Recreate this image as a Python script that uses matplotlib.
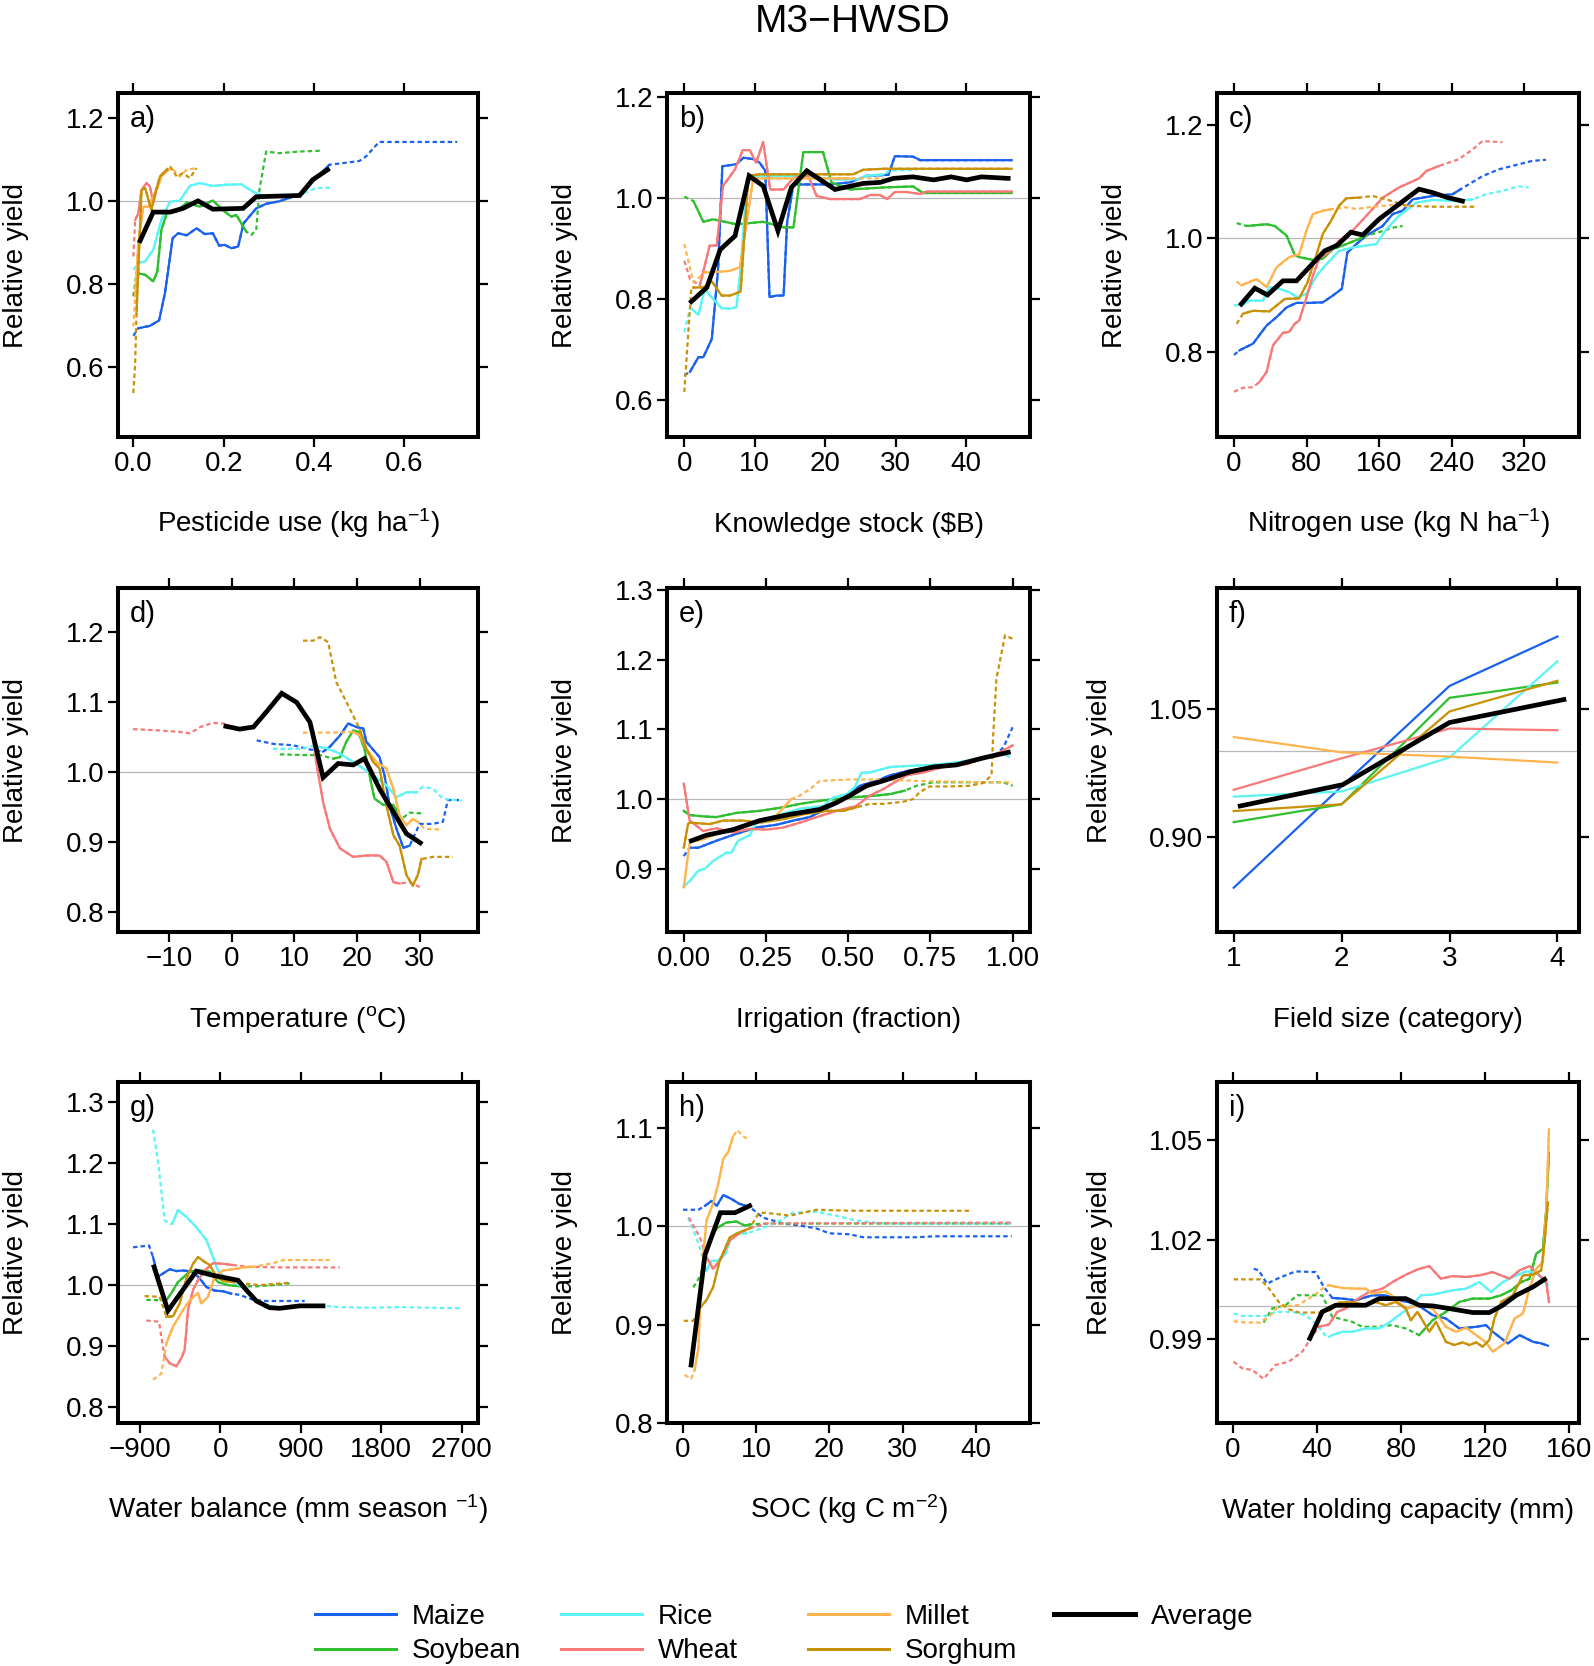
import matplotlib
matplotlib.use('Agg')
import matplotlib.pyplot as plt
from matplotlib.lines import Line2D

plt.rcParams['font.family'] = ['Liberation Sans', 'DejaVu Sans']
plt.rcParams['mathtext.fontset'] = 'custom'
plt.rcParams['mathtext.rm'] = 'Liberation Sans'
plt.rcParams['mathtext.it'] = 'Liberation Sans:italic'
plt.rcParams['mathtext.bf'] = 'Liberation Sans:bold'

CROPS = ['Maize', 'Soybean', 'Rice', 'Wheat', 'Millet', 'Sorghum']
COLORS = {'Maize': '#1a62ee', 'Soybean': '#2fbf2f', 'Rice': '#5cf4f4',
          'Wheat': '#f87a78', 'Millet': '#ffb44e', 'Sorghum': '#c99206'}

# ---------------- panel a: pesticide use ----------------
a_maize_x = [0, 0.011, 0.037, 0.057, 0.070, 0.087, 0.099, 0.118, 0.140, 0.158, 0.176, 0.190, 0.202, 0.217, 0.232, 0.244, 0.272, 0.294, 0.323, 0.353, 0.375, 0.404, 0.434, 0.500, 0.515, 0.544, 0.717]
a_maize_y = [0.675, 0.693, 0.699, 0.712, 0.778, 0.910, 0.922, 0.917, 0.934, 0.920, 0.922, 0.892, 0.894, 0.886, 0.890, 0.946, 0.982, 0.993, 0.999, 1.010, 1.018, 1.055, 1.087, 1.096, 1.107, 1.142, 1.142]
a_maize_solid = (0.011, 0.434)
a_soy_x = [0, 0.007, 0.026, 0.044, 0.053, 0.062, 0.074, 0.096, 0.118, 0.147, 0.176, 0.202, 0.217, 0.228, 0.250, 0.261, 0.272, 0.279, 0.294, 0.323, 0.368, 0.419]
a_soy_y = [0.770, 0.826, 0.822, 0.806, 0.830, 0.930, 0.970, 0.974, 0.996, 0.986, 1.001, 0.974, 0.962, 0.966, 0.926, 0.918, 0.930, 1.026, 1.119, 1.115, 1.119, 1.121]
a_soy_solid = (0.007, 0.250)
a_rice_x = [0, 0.011, 0.026, 0.044, 0.062, 0.081, 0.103, 0.125, 0.147, 0.176, 0.206, 0.239, 0.265, 0.283, 0.323, 0.353, 0.375, 0.404, 0.437]
a_rice_y = [0.834, 0.851, 0.854, 0.882, 0.954, 0.998, 1.001, 1.036, 1.043, 1.036, 1.039, 1.040, 1.022, 1.014, 1.010, 1.012, 1.017, 1.031, 1.032]
a_rice_solid = (0.011, 0.375)
a_wheat_x = [0, 0.004, 0.011, 0.018, 0.029, 0.037, 0.044, 0.051, 0.062, 0.074]
a_wheat_y = [0.866, 0.954, 0.970, 1.026, 1.043, 1.034, 0.994, 1.026, 1.062, 1.075]
a_wheat_solid = (0.004, 0.074)
a_millet_x = [0, 0.004, 0.011, 0.022, 0.033, 0.055, 0.062, 0.074, 0.085, 0.103, 0.118, 0.140]
a_millet_y = [0.697, 0.770, 0.898, 0.986, 0.986, 1.035, 1.059, 1.071, 1.079, 1.059, 1.075, 1.079]
a_millet_solid = (0.004, 0.074)
a_sorghum_x = [0, 0.004, 0.007, 0.013, 0.018, 0.026, 0.040, 0.048, 0.059, 0.074, 0.081, 0.096, 0.110, 0.125, 0.140]
a_sorghum_y = [0.537, 0.609, 0.729, 0.890, 1.026, 1.031, 0.978, 1.018, 1.059, 1.075, 1.084, 1.059, 1.067, 1.055, 1.079]
a_sorghum_solid = (0.007, 0.074)
a_avg_x = [0.015, 0.044, 0.081, 0.110, 0.143, 0.176, 0.243, 0.272, 0.368, 0.397, 0.430]
a_avg_y = [0.904, 0.973, 0.973, 0.982, 1.000, 0.980, 0.982, 1.010, 1.013, 1.051, 1.075]

# ---------------- panel b: knowledge stock ----------------
b_maize_x = [0, 0.8, 2.0, 2.7, 3.9, 4.8, 5.4, 7.4, 8.4, 9.8, 10.7, 11.5, 12.1, 13.1, 14.1, 14.6, 15.5, 18.3, 20.7, 23.5, 25.9, 29.0, 29.9, 32.5, 33.5, 46.5]
b_maize_y = [0.648, 0.655, 0.684, 0.684, 0.720, 0.859, 1.062, 1.066, 1.079, 1.076, 1.069, 1.053, 0.803, 0.806, 0.806, 0.951, 1.026, 1.026, 1.026, 1.030, 1.043, 1.045, 1.082, 1.081, 1.074, 1.074]
b_maize_solid = (0.8, 46.5)
b_soy_x = [0, 1.3, 2.7, 4.1, 7.4, 11.2, 14.1, 15.5, 16.9, 19.7, 20.9, 23.5, 28.3, 32.5, 33.9, 46.5]
b_soy_y = [1.002, 0.993, 0.952, 0.957, 0.947, 0.952, 0.941, 0.941, 1.090, 1.090, 1.030, 1.016, 1.020, 1.022, 1.009, 1.009]
b_soy_solid = (1.3, 46.5)
b_rice_x = [0, 0.8, 1.0, 2.0, 2.9, 4.1, 5.3, 6.5, 7.4, 8.0, 8.9, 10.7, 16.4, 21.6, 24.5, 25.9, 28.3, 29.2, 33.0]
b_rice_y = [0.734, 0.780, 0.780, 0.768, 0.819, 0.799, 0.781, 0.780, 0.783, 0.859, 1.036, 1.043, 1.043, 1.036, 1.036, 1.043, 1.046, 1.053, 1.055]
b_rice_solid = (1.0, 28.3)
b_wheat_x = [0, 0.8, 2.2, 3.6, 4.6, 5.5, 7.2, 8.3, 9.3, 10.2, 11.2, 12.2, 14.1, 15.5, 17.6, 18.8, 20.7, 24.9, 26.4, 27.8, 28.8, 29.9, 31.6, 33.5, 34.4, 46.5]
b_wheat_y = [0.875, 0.839, 0.826, 0.905, 0.905, 1.023, 1.056, 1.094, 1.094, 1.069, 1.110, 1.016, 1.016, 1.039, 1.043, 1.003, 0.997, 0.997, 1.005, 1.005, 0.997, 1.011, 1.011, 1.007, 1.012, 1.012]
b_wheat_solid = (2.2, 46.5)
b_millet_x = [0, 1.3, 2.9, 4.1, 6.5, 7.9, 9.8, 10.7, 23.5, 28.3]
b_millet_y = [0.908, 0.832, 0.852, 0.852, 0.855, 0.862, 1.039, 1.038, 1.038, 1.038]
b_millet_solid = (2.9, 23.5)
b_sorghum_x = [0, 0.6, 1.0, 1.3, 2.7, 3.9, 5.3, 6.5, 8.0, 9.1, 10.7, 24.0, 25.4, 28.3, 46.5]
b_sorghum_y = [0.615, 0.740, 0.822, 0.822, 0.822, 0.834, 0.806, 0.806, 0.814, 1.043, 1.046, 1.046, 1.055, 1.057, 1.057]
b_sorghum_solid = (1.3, 46.5)
b_avg_x = [1.0, 3.2, 5.1, 7.2, 9.2, 11.2, 13.3, 15.2, 17.4, 21.4, 25.4, 27.8, 29.7, 32.5, 35.4, 37.9, 40.1, 42.2, 46.0]
b_avg_y = [0.794, 0.822, 0.897, 0.924, 1.043, 1.023, 0.934, 1.020, 1.053, 1.016, 1.028, 1.030, 1.038, 1.041, 1.035, 1.041, 1.035, 1.041, 1.038]

# ---------------- panel c: nitrogen use ----------------
c_maize_x = [0, 6, 21, 36, 47, 58, 69, 83, 98, 109, 119, 125, 135, 146, 164, 175, 186, 197, 219, 241, 250, 274, 292, 314, 329, 344]
c_maize_y = [0.794, 0.802, 0.814, 0.846, 0.861, 0.878, 0.886, 0.886, 0.887, 0.899, 0.911, 0.975, 0.990, 1.005, 1.022, 1.043, 1.049, 1.069, 1.075, 1.078, 1.087, 1.110, 1.122, 1.131, 1.137, 1.139]
c_maize_solid = (6, 250)
c_soy_x = [3, 14, 36, 45, 58, 67, 72, 87, 98, 109, 124, 138, 146, 160, 175, 186]
c_soy_y = [1.027, 1.022, 1.025, 1.022, 1.005, 0.971, 0.967, 0.962, 0.964, 0.981, 0.990, 0.999, 1.005, 1.011, 1.019, 1.022]
c_soy_solid = (14, 146)
c_rice_x = [0, 8, 17, 32, 39, 50, 61, 70, 80, 91, 104, 116, 131, 157, 168, 182, 201, 219, 245, 263, 278, 296, 314, 325]
c_rice_y = [0.882, 0.881, 0.890, 0.890, 0.914, 0.911, 0.905, 0.896, 0.902, 0.934, 0.958, 0.978, 0.984, 0.990, 1.016, 1.040, 1.063, 1.068, 1.066, 1.069, 1.078, 1.084, 1.092, 1.090]
c_rice_solid = (8, 263)
c_wheat_x = [0, 10, 21, 28, 36, 43, 54, 61, 67, 72, 80, 87, 94, 104, 116, 131, 146, 164, 182, 204, 212, 226, 248, 263, 274, 296]
c_wheat_y = [0.729, 0.736, 0.737, 0.746, 0.764, 0.811, 0.833, 0.835, 0.849, 0.855, 0.896, 0.934, 0.964, 0.975, 0.996, 1.014, 1.040, 1.072, 1.090, 1.106, 1.119, 1.128, 1.140, 1.157, 1.172, 1.170]
c_wheat_solid = (28, 226)
c_millet_x = [3, 8, 25, 36, 47, 61, 72, 80, 87, 98, 109, 124, 135, 153, 175, 197]
c_millet_y = [0.924, 0.917, 0.928, 0.914, 0.949, 0.967, 0.972, 1.014, 1.043, 1.049, 1.052, 1.055, 1.052, 1.056, 1.059, 1.056]
c_millet_solid = (8, 109)
c_sorghum_x = [3, 10, 21, 39, 56, 72, 81, 89, 98, 107, 116, 124, 138, 153, 168, 190, 219, 265]
c_sorghum_y = [0.849, 0.867, 0.872, 0.871, 0.893, 0.894, 0.922, 0.961, 1.008, 1.031, 1.058, 1.071, 1.072, 1.075, 1.069, 1.058, 1.056, 1.056]
c_sorghum_solid = (10, 138)
c_avg_x = [8, 23, 37, 54, 69, 83, 100, 114, 129, 142, 160, 204, 219, 236, 252]
c_avg_y = [0.884, 0.912, 0.900, 0.925, 0.925, 0.949, 0.978, 0.988, 1.011, 1.006, 1.034, 1.087, 1.081, 1.072, 1.066]

# ---------------- panel d: temperature ----------------
d_maize_x = [4.0, 6.6, 9.8, 12.5, 14.6, 15.7, 17.3, 18.6, 19.9, 21.0, 21.5, 23.6, 24.4, 25.2, 26.3, 27.4, 28.4, 30.0, 32.1, 33.7, 34.5, 36.7]
d_maize_y = [1.045, 1.040, 1.038, 1.032, 1.029, 1.036, 1.052, 1.069, 1.064, 1.062, 1.043, 1.021, 0.995, 0.952, 0.919, 0.892, 0.895, 0.926, 0.926, 0.929, 0.960, 0.960]
d_maize_solid = (14.6, 28.4)
d_soy_x = [7.7, 12.0, 14.1, 16.2, 17.3, 18.3, 19.4, 20.2, 21.2, 22.0, 22.8, 24.2, 25.8, 27.1, 28.4, 30.3]
d_soy_y = [1.025, 1.024, 1.024, 1.019, 1.021, 1.043, 1.059, 1.057, 1.033, 0.995, 0.962, 0.953, 0.953, 0.933, 0.942, 0.941]
d_soy_solid = (16.2, 27.1)
d_rice_x = [6.6, 10.9, 13.0, 15.1, 17.3, 18.9, 21.0, 22.6, 24.7, 26.3, 27.9, 29.5, 30.5, 32.1, 33.7, 36.7]
d_rice_y = [1.033, 1.033, 1.037, 1.034, 1.026, 1.017, 1.005, 0.995, 0.981, 0.964, 0.971, 0.971, 0.979, 0.976, 0.962, 0.959]
d_rice_solid = (13.0, 29.5)
d_wheat_x = [-15.7, -11.4, -8.2, -6.6, -5.0, -2.9, -1.3, -0.5, 1.3, 3.5, 5.6, 8.0, 10.1, 11.7, 12.7, 13.5, 14.6, 15.7, 17.3, 19.4, 21.5, 23.6, 24.7, 25.8, 26.8, 28.4, 30.0]
d_wheat_y = [1.061, 1.059, 1.057, 1.055, 1.064, 1.070, 1.069, 1.066, 1.061, 1.064, 1.086, 1.114, 1.100, 1.081, 1.067, 1.014, 0.957, 0.919, 0.891, 0.879, 0.881, 0.881, 0.872, 0.843, 0.841, 0.843, 0.836]
d_wheat_solid = (-0.5, 26.8)
d_millet_x = [11.4, 16.2, 19.4, 20.5, 21.5, 23.1, 24.7, 25.8, 26.8, 27.9, 28.9, 29.7, 30.8, 33.2]
d_millet_y = [1.056, 1.056, 1.057, 1.052, 1.033, 1.014, 1.005, 0.976, 0.938, 0.924, 0.933, 0.929, 0.919, 0.918]
d_millet_solid = (19.4, 29.7)
d_sorghum_x = [11.4, 13.0, 14.1, 15.4, 16.7, 18.3, 19.9, 20.5, 21.5, 22.6, 23.6, 24.7, 25.8, 26.8, 27.9, 28.9, 29.7, 30.3, 32.1, 35.3]
d_sorghum_y = [1.187, 1.187, 1.192, 1.185, 1.128, 1.100, 1.071, 1.059, 1.033, 1.014, 1.005, 0.952, 0.910, 0.895, 0.853, 0.838, 0.853, 0.876, 0.879, 0.879]
d_sorghum_solid = (20.5, 30.3)
d_avg_x = [-0.9, 1.3, 3.5, 5.6, 8.0, 10.4, 12.5, 14.6, 17.0, 19.4, 21.2, 23.6, 25.8, 27.9, 30.1]
d_avg_y = [1.065, 1.061, 1.064, 1.086, 1.112, 1.099, 1.071, 0.992, 1.012, 1.010, 1.019, 0.976, 0.943, 0.912, 0.899]

# ---------------- panel e: irrigation ----------------
e_maize_x = [0, 0.018, 0.044, 0.099, 0.160, 0.221, 0.282, 0.333, 0.383, 0.434, 0.485, 0.535, 0.586, 0.627, 0.688, 0.738, 0.809, 0.870, 0.921, 0.951, 0.972, 1.0]
e_maize_y = [0.918, 0.930, 0.930, 0.940, 0.950, 0.959, 0.963, 0.969, 0.974, 0.986, 0.998, 1.019, 1.026, 1.034, 1.041, 1.044, 1.048, 1.054, 1.060, 1.065, 1.074, 1.103]
e_maize_solid = (0.018, 0.951)
e_soy_x = [0, 0.018, 0.059, 0.099, 0.160, 0.231, 0.302, 0.353, 0.424, 0.505, 0.586, 0.627, 0.672, 0.708, 0.759, 0.809, 0.911, 0.972, 1.0]
e_soy_y = [0.983, 0.977, 0.975, 0.974, 0.980, 0.983, 0.988, 0.993, 0.998, 1.002, 1.005, 1.007, 1.012, 1.019, 1.024, 1.024, 1.024, 1.024, 1.019]
e_soy_solid = (0.0, 0.672)
e_rice_x = [0, 0.018, 0.044, 0.065, 0.089, 0.130, 0.145, 0.165, 0.201, 0.221, 0.282, 0.353, 0.424, 0.454, 0.495, 0.520, 0.541, 0.566, 0.627, 0.708, 0.759, 0.840, 0.911, 0.972, 1.0]
e_rice_y = [0.875, 0.882, 0.897, 0.900, 0.911, 0.923, 0.923, 0.940, 0.948, 0.966, 0.976, 0.986, 0.990, 1.002, 1.007, 1.017, 1.038, 1.038, 1.046, 1.048, 1.049, 1.053, 1.060, 1.065, 1.058]
e_rice_solid = (0.0, 0.972)
e_wheat_x = [0, 0.018, 0.059, 0.099, 0.150, 0.201, 0.252, 0.302, 0.353, 0.404, 0.465, 0.525, 0.566, 0.606, 0.677, 0.728, 0.789, 0.860, 0.911, 0.961, 1.0]
e_wheat_y = [1.022, 0.969, 0.954, 0.958, 0.952, 0.957, 0.956, 0.959, 0.966, 0.974, 0.983, 0.990, 1.005, 1.014, 1.034, 1.038, 1.046, 1.050, 1.058, 1.067, 1.077]
e_wheat_solid = (0.0, 1.0)
e_millet_x = [0, 0.018, 0.059, 0.110, 0.160, 0.221, 0.282, 0.307, 0.328, 0.353, 0.383, 0.414, 0.505, 0.606, 0.708, 0.809, 0.911, 1.0]
e_millet_y = [0.873, 0.938, 0.942, 0.952, 0.956, 0.966, 0.976, 0.990, 1.000, 1.005, 1.014, 1.026, 1.028, 1.028, 1.026, 1.025, 1.024, 1.024]
e_millet_solid = (0.0, 0.328)
e_sorghum_x = [0, 0.013, 0.018, 0.079, 0.120, 0.181, 0.231, 0.302, 0.363, 0.434, 0.485, 0.525, 0.566, 0.606, 0.667, 0.698, 0.718, 0.748, 0.809, 0.870, 0.911, 0.936, 0.941, 0.951, 0.977, 1.0]
e_sorghum_y = [0.930, 0.964, 0.966, 0.964, 0.969, 0.969, 0.966, 0.971, 0.978, 0.983, 0.983, 0.988, 0.993, 0.993, 0.996, 1.000, 1.010, 1.018, 1.018, 1.019, 1.023, 1.034, 1.091, 1.173, 1.235, 1.230]
e_sorghum_solid = (0.0, 0.525)
e_avg_x = [0.023, 0.069, 0.150, 0.231, 0.323, 0.414, 0.465, 0.505, 0.556, 0.606, 0.688, 0.759, 0.830, 0.911, 0.987]
e_avg_y = [0.940, 0.948, 0.956, 0.969, 0.978, 0.985, 0.995, 1.005, 1.019, 1.026, 1.039, 1.046, 1.049, 1.059, 1.067]

# ---------------- panel f: field size ----------------
f_x = [1, 2, 3, 4]
f_maize_y = [0.840, 0.959, 1.077, 1.135]
f_soy_y = [0.917, 0.938, 1.063, 1.081]
f_rice_y = [0.947, 0.953, 0.993, 1.106]
f_wheat_y = [0.955, 0.992, 1.027, 1.025]
f_millet_y = [1.017, 0.999, 0.994, 0.987]
f_sorghum_y = [0.930, 0.938, 1.047, 1.083]
f_avg_x = [1.06, 2.01, 3.0, 4.06]
f_avg_y = [0.936, 0.961, 1.034, 1.061]

# ---------------- panel g: water balance ----------------
g_maize_x = [-977, -798, -753, -698, -642, -567, -492, -418, -306, -231, -157, -63, 30, 123, 216, 366, 515, 944]
g_maize_y = [1.061, 1.064, 1.045, 1.013, 1.018, 1.025, 1.022, 1.023, 1.021, 1.010, 0.996, 0.990, 0.989, 0.985, 0.983, 0.975, 0.973, 0.973]
g_maize_solid = (-753, 123)
g_soy_x = [-828, -660, -604, -548, -474, -343, -231, -119, -26, 86, 216, 403, 589, 776]
g_soy_y = [0.975, 0.974, 0.974, 0.986, 1.004, 1.021, 1.023, 1.021, 1.004, 0.999, 0.997, 0.997, 0.999, 1.002]
g_soy_solid = (-604, 216)
g_rice_x = [-753, -698, -623, -548, -537, -474, -380, -269, -157, -82, -26, 67, 179, 291, 403, 515, 664, 888, 1149, 1335, 1634, 2007, 2697]
g_rice_y = [1.254, 1.203, 1.105, 1.099, 1.100, 1.122, 1.111, 1.094, 1.073, 1.045, 1.023, 1.010, 1.002, 0.991, 0.974, 0.966, 0.962, 0.965, 0.965, 0.963, 0.962, 0.963, 0.961]
g_rice_solid = (-537, 1149)
g_wheat_x = [-828, -686, -660, -623, -567, -492, -437, -399, -362, -306, -250, -175, -82, 30, 142, 328, 701, 1335]
g_wheat_y = [0.941, 0.939, 0.914, 0.882, 0.871, 0.866, 0.879, 0.893, 0.958, 0.991, 1.007, 1.023, 1.035, 1.034, 1.032, 1.029, 1.028, 1.028]
g_wheat_solid = (-623, 142)
g_millet_x = [-753, -660, -604, -530, -418, -343, -250, -213, -138, -63, 30, 142, 254, 366, 589, 701, 1223]
g_millet_y = [0.844, 0.854, 0.903, 0.931, 0.958, 0.974, 0.986, 0.969, 0.980, 1.013, 1.023, 1.025, 1.028, 1.029, 1.035, 1.040, 1.040]
g_millet_solid = (-604, 366)
g_sorghum_x = [-847, -679, -604, -530, -455, -380, -306, -250, -175, -119, -45, 30, 142, 254, 440, 776]
g_sorghum_y = [0.981, 0.980, 0.947, 0.948, 0.969, 1.010, 1.034, 1.045, 1.037, 1.032, 1.013, 1.006, 1.004, 1.002, 0.999, 1.003]
g_sorghum_solid = (-604, 142)
g_avg_x = [-742, -586, -269, -82, 198, 291, 403, 552, 664, 888, 1149]
g_avg_y = [1.029, 0.957, 1.022, 1.015, 1.007, 0.991, 0.973, 0.962, 0.961, 0.965, 0.965]

# ---------------- panel h: SOC ----------------
h_maize_x = [0, 2.1, 3.0, 3.9, 4.6, 5.5, 6.6, 7.7, 9.1, 10.9, 13.7, 15.9, 18.2, 20.0, 22.8, 24.6, 31.9, 34.2, 44.9]
h_maize_y = [1.017, 1.017, 1.021, 1.026, 1.021, 1.032, 1.028, 1.023, 1.020, 1.009, 1.003, 1.001, 0.998, 0.993, 0.992, 0.989, 0.989, 0.990, 0.990]
h_maize_solid = (3.0, 9.1)
h_soy_x = [1.4, 2.3, 2.7, 3.6, 4.6, 5.9, 7.3, 8.4, 9.1, 11.4, 18.2, 44.9]
h_soy_y = [0.938, 0.949, 0.959, 0.986, 0.998, 1.004, 1.005, 1.001, 1.002, 1.003, 1.003, 1.003]
h_soy_solid = (2.7, 9.1)
h_rice_x = [0.7, 1.8, 2.7, 3.2, 3.9, 4.8, 5.7, 6.6, 7.3, 8.7, 10.0, 12.8, 15.0, 18.2, 20.9, 23.7, 27.3, 44.9]
h_rice_y = [1.009, 0.989, 0.969, 0.955, 0.965, 0.965, 0.971, 0.989, 0.993, 0.993, 0.996, 1.004, 1.014, 1.015, 1.011, 1.006, 1.003, 1.003]
h_rice_solid = (3.2, 8.7)
h_wheat_x = [0.8, 2.3, 3.2, 4.1, 5.0, 6.4, 7.7, 9.1, 11.4, 44.9]
h_wheat_y = [1.009, 0.989, 0.969, 0.957, 0.965, 0.986, 0.993, 0.998, 1.003, 1.004]
h_wheat_solid = (3.2, 7.7)
h_millet_x = [0.2, 1.1, 1.6, 2.1, 2.5, 3.2, 4.1, 4.8, 5.5, 6.2, 6.8, 7.4, 8.2, 9.0]
h_millet_y = [0.849, 0.845, 0.854, 0.877, 0.949, 1.006, 1.023, 1.043, 1.069, 1.076, 1.091, 1.098, 1.092, 1.088]
h_millet_solid = (1.6, 6.8)
h_sorghum_x = [0.1, 1.4, 2.3, 3.2, 4.1, 5.0, 6.4, 7.7, 9.1, 10.3, 11.2, 14.6, 18.2, 22.8, 39.4]
h_sorghum_y = [0.904, 0.904, 0.917, 0.925, 0.938, 0.965, 0.989, 0.994, 0.998, 1.013, 1.014, 1.011, 1.017, 1.016, 1.016]
h_sorghum_solid = (2.3, 9.1)
h_avg_x = [1.1, 3.0, 5.1, 7.1, 9.1]
h_avg_y = [0.859, 0.971, 1.014, 1.014, 1.021]

# ---------------- panel i: water holding capacity ----------------
i_maize_x = [9.9, 12.3, 16.2, 21.8, 29.8, 39.3, 43.3, 47.3, 52.1, 58.4, 66.4, 72.7, 79.1, 87.1, 95.1, 101.4, 107.8, 115.8, 120.5, 123.7, 130.9, 136.5, 142.8, 146.8, 150.0]
i_maize_y = [1.0113, 1.0108, 1.0068, 1.0085, 1.0105, 1.0103, 1.0058, 1.0025, 1.0023, 1.0018, 1.0033, 1.0033, 1.0018, 1.0008, 0.9973, 0.9963, 0.9933, 0.9938, 0.9943, 0.9923, 0.9888, 0.9913, 0.9893, 0.9888, 0.9881]
i_maize_solid = (47.3, 150.0)
i_soy_x = [14.6, 18.6, 25.0, 30.6, 36.1, 42.5, 47.3, 50.5, 56.8, 61.6, 68.0, 75.9, 82.3, 88.7, 95.1, 101.4, 107.8, 114.2, 122.1, 127.7, 132.5, 137.3, 141.2, 144.4, 147.6, 149.2, 150.5]
i_soy_y = [0.9951, 0.9993, 1.0003, 1.0033, 1.0033, 1.0033, 0.9968, 0.9963, 0.9953, 0.9938, 0.9938, 0.9943, 0.9933, 0.9913, 0.9958, 0.9983, 1.0013, 1.0023, 1.0023, 1.0033, 1.0048, 1.0073, 1.0083, 1.0158, 1.0173, 1.0293, 1.0463]
i_soy_solid = (88.7, 150.5)
i_rice_x = [0.3, 4.3, 15.4, 20.2, 28.2, 34.6, 39.3, 44.9, 47.3, 52.1, 56.8, 63.2, 69.6, 74.4, 79.1, 85.5, 89.5, 95.1, 104.6, 111.0, 117.4, 122.9, 128.5, 134.9, 139.6, 144.4, 150.0]
i_rice_y = [0.9978, 0.9971, 0.9971, 0.9983, 0.9983, 0.9973, 0.9948, 0.9905, 0.9913, 0.9923, 0.9923, 0.9933, 0.9933, 0.9951, 0.9973, 1.0003, 1.0033, 1.0035, 1.0048, 1.0053, 1.0073, 1.0043, 1.0073, 1.0093, 1.0105, 1.0101, 1.0063]
i_rice_solid = (47.3, 150.0)
i_wheat_x = [0.3, 4.3, 9.1, 14.6, 20.2, 26.6, 33.0, 36.9, 40.9, 45.7, 49.7, 53.7, 58.4, 64.8, 71.2, 76.0, 82.3, 87.9, 93.5, 99.0, 104.6, 111.0, 117.4, 123.7, 131.7, 136.5, 141.2, 146.0, 149.2, 150.5]
i_wheat_y = [0.9833, 0.9813, 0.9808, 0.9781, 0.9823, 0.9833, 0.9863, 0.9901, 0.9938, 0.9945, 0.9983, 0.9993, 1.0018, 1.0043, 1.0053, 1.0073, 1.0095, 1.0111, 1.0121, 1.0083, 1.0091, 1.0088, 1.0093, 1.0103, 1.0083, 1.0108, 1.0121, 1.0093, 1.0073, 1.0013]
i_wheat_solid = (40.9, 150.5)
i_millet_x = [0.3, 5.9, 13.1, 17.8, 21.8, 26.6, 30.9, 36.1, 40.9, 44.1, 45.7, 52.1, 58.4, 63.2, 66.4, 72.7, 77.5, 82.3, 88.7, 95.1, 101.4, 106.2, 111.0, 115.8, 120.5, 123.7, 129.3, 134.1, 138.1, 141.2, 144.4, 147.6, 149.2, 150.5]
i_millet_y = [0.9955, 0.9951, 0.9951, 0.9973, 1.0001, 1.0001, 1.0003, 1.0023, 1.0043, 1.0061, 1.0063, 1.0055, 1.0053, 1.0053, 1.0038, 1.0045, 1.0023, 0.9993, 1.0003, 0.9993, 0.9938, 0.9923, 0.9935, 0.9913, 0.9891, 0.9863, 0.9888, 0.9963, 0.9978, 1.0053, 1.0113, 1.0133, 1.0293, 1.0533]
i_millet_solid = (45.7, 150.5)
i_sorghum_x = [0.3, 13.1, 17.2, 21.8, 26.6, 31.4, 40.9, 46.4, 50.5, 56.8, 63.2, 68.0, 72.7, 77.5, 82.3, 84.7, 87.9, 93.5, 96.7, 101.4, 105.4, 109.4, 112.6, 115.8, 118.9, 122.1, 124.5, 127.7, 133.3, 138.1, 142.8, 146.8, 148.4, 150.0]
i_sorghum_y = [1.0081, 1.0081, 1.0053, 1.0013, 0.9991, 0.9981, 0.9981, 0.9988, 1.0011, 1.0013, 1.0003, 1.0013, 1.0003, 1.0013, 0.9993, 0.9958, 0.9983, 0.9923, 0.9953, 0.9893, 0.9883, 0.9891, 0.9883, 0.9891, 0.9878, 0.9898, 0.9963, 1.0013, 1.0033, 1.0093, 1.0095, 1.0108, 1.0193, 1.0313]
i_sorghum_solid = (46.4, 150.0)
i_avg_x = [36.6, 42.5, 48.9, 63.2, 69.6, 82.3, 88.7, 95.1, 103.0, 114.2, 122.1, 128.5, 134.9, 142.8, 148.4]
i_avg_y = [0.9903, 0.9983, 1.0003, 1.0003, 1.0023, 1.0023, 1.0003, 1.0001, 0.9993, 0.9981, 0.9981, 1.0003, 1.0033, 1.0058, 1.0081]

# ---------------- axis settings ----------------
XLABELS = ['Pesticide use (kg ha$^{-1}$)', 'Knowledge stock (\\$B)', 'Nitrogen use (kg N ha$^{-1}$)',
           'Temperature ($^{\\mathrm{o}}$C)', 'Irrigation (fraction)', 'Field size (category)',
           'Water balance (mm season $^{-1}$)', 'SOC (kg C m$^{-2}$)', 'Water holding capacity (mm)']
PANEL_TAGS = ['a)', 'b)', 'c)', 'd)', 'e)', 'f)', 'g)', 'h)', 'i)']
XLIMS = [(-0.034, 0.763), (-2.46, 49.1), (-18.7, 380.5), (-18.1, 39.3), (-0.051, 1.053),
         (0.845, 4.20), (-1145, 2883), (-2.19, 47.4), (-7.6, 164.8)]
YLIMS = [(0.431, 1.260), (0.526, 1.207), (0.649, 1.257), (0.772, 1.262), (0.809, 1.303),
         (0.788, 1.192), (0.773, 1.332), (0.800, 1.147), (0.9648, 1.0676)]
XTICKS = [[0.0, 0.2, 0.4, 0.6], [0, 10, 20, 30, 40], [0, 80, 160, 240, 320], [-10, 0, 10, 20, 30],
          [0.0, 0.25, 0.5, 0.75, 1.0], [1, 2, 3, 4], [-900, 0, 900, 1800, 2700], [0, 10, 20, 30, 40],
          [0, 40, 80, 120, 160]]
YTICKS = [[0.6, 0.8, 1.0, 1.2], [0.6, 0.8, 1.0, 1.2], [0.8, 1.0, 1.2], [0.8, 0.9, 1.0, 1.1, 1.2],
          [0.9, 1.0, 1.1, 1.2, 1.3], [0.90, 1.05], [0.8, 0.9, 1.0, 1.1, 1.2, 1.3], [0.8, 0.9, 1.0, 1.1],
          [0.99, 1.02, 1.05]]

g_ = globals()
PANEL_PREFIX = ['a', 'b', 'c', 'd', 'e', 'f', 'g', 'h', 'i']
KEYS = {'Maize': 'maize', 'Soybean': 'soy', 'Rice': 'rice', 'Wheat': 'wheat', 'Millet': 'millet', 'Sorghum': 'sorghum'}

W, H = 1594, 1666
fig = plt.figure(figsize=(W / 100, H / 100), dpi=100)
COL_LEFT = [118, 667, 1217]
COL_W = [360, 363, 362]
ROW_TOP = [93, 588, 1082]
ROW_H = [344, 344, 341]

DOT = (0, (2.0, 1.4))
LW = 1.6

for k, p in enumerate(PANEL_PREFIX):
    r, c = divmod(k, 3)
    ax = fig.add_axes([COL_LEFT[c] / W, 1 - (ROW_TOP[r] + ROW_H[r]) / H, COL_W[c] / W, ROW_H[r] / H])
    ax.axhline(1.0, color='#b8b8b8', lw=0.9, zorder=0.5)
    for crop in CROPS:
        col = COLORS[crop]
        key = KEYS[crop]
        if p == 'f':
            ax.plot(f_x, g_['f_%s_y' % key], color=col, lw=LW)
            continue
        xs = g_['%s_%s_x' % (p, key)]
        ys = g_['%s_%s_y' % (p, key)]
        lo, hi = g_['%s_%s_solid' % (p, key)]
        ax.plot(xs, ys, color=col, lw=LW, ls=DOT)
        sx = [a for a, b in zip(xs, ys) if lo <= a <= hi]
        sy = [b for a, b in zip(xs, ys) if lo <= a <= hi]
        ax.plot(sx, sy, color=col, lw=LW, ls='-')
    ax.plot(g_['%s_avg_x' % p], g_['%s_avg_y' % p], color='black', lw=3.4, solid_joinstyle='miter')
    ax.set_xlim(*XLIMS[k])
    ax.set_ylim(*YLIMS[k])
    ax.set_xticks(XTICKS[k])
    ax.set_yticks(YTICKS[k])
    for s in ax.spines.values():
        s.set_linewidth(2.9)
    ax.tick_params(direction='out', length=7, width=1.6, labelsize=20, pad=3,
                   top=True, right=True, labeltop=False, labelright=False)
    ax.set_xlabel(XLABELS[k], fontsize=20, va='baseline')
    ax.xaxis.set_label_coords(0.5, -95.0 / ROW_H[r])
    ax.set_ylabel('Relative yield', fontsize=20, labelpad=26)
    ax.text(0.033, 0.924, PANEL_TAGS[k], transform=ax.transAxes, fontsize=21, va='center', ha='left')

fig.text(0.535, 0.987, 'M3\u2212HWSD', ha='center', va='center', fontsize=28)

# legend, four columns
def h(color, lw):
    return Line2D([], [], color=color, lw=lw)

legend_cols = [[('Maize', COLORS['Maize']), ('Soybean', COLORS['Soybean'])],
               [('Rice', COLORS['Rice']), ('Wheat', COLORS['Wheat'])],
               [('Millet', COLORS['Millet']), ('Sorghum', COLORS['Sorghum'])],
               [('Average', 'black')]]
LEG_X = [315, 561, 808, 1054]
for lx, entries in zip(LEG_X, legend_cols):
    handles = [h(cl, 3.6 if nm == 'Average' else 2.2) for nm, cl in entries]
    fig.legend(handles, [nm for nm, cl in entries], loc='upper left',
               bbox_to_anchor=(lx / W, 1 - 1604 / H), frameon=False, fontsize=20,
               handlelength=2.9, handletextpad=0.6, labelspacing=0.3,
               borderpad=0, borderaxespad=0)

fig.savefig('out.png', dpi=100)
